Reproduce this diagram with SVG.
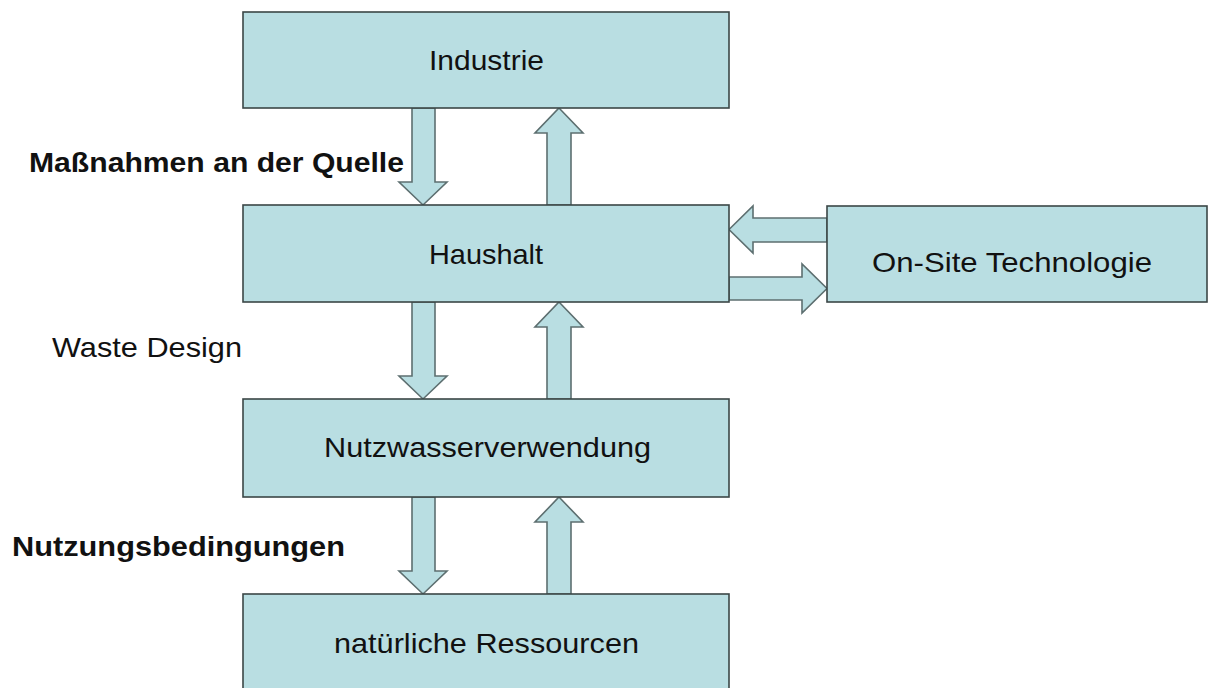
<svg xmlns="http://www.w3.org/2000/svg" width="1208" height="688" viewBox="0 0 1208 688">
<style>
.box{fill:#b9dee2;stroke:#3b4646;stroke-width:1.6}
.arr{fill:#b9dee2;stroke:#5d6f70;stroke-width:1.6;stroke-linejoin:miter}
.t{font-family:"Liberation Sans",Arial,sans-serif;font-size:28px;fill:#111;text-anchor:middle}
.lb{font-family:"Liberation Sans",Arial,sans-serif;font-size:28px;fill:#111}
.b{font-weight:bold}
</style>
<rect width="1208" height="688" fill="#ffffff"/>
<g id="connectors">
<polygon class="arr" points="412,108 435,108 435,182 447,182 423,205 399,182 412,182"/>
<polygon class="arr" points="559,108 583,133 571,133 571,205 547,205 547,133 535,133"/>
<polygon class="arr" points="412,302 435,302 435,376 447,376 423,399 399,376 412,376"/>
<polygon class="arr" points="559,302 583,327 571,327 571,399 547,399 547,327 535,327"/>
<polygon class="arr" points="412,497 435,497 435,571 447,571 423,594 399,571 412,571"/>
<polygon class="arr" points="559,497 583,522 571,522 571,594 547,594 547,522 535,522"/>
<polygon class="arr" points="729,229.5 753,206 753,218 827,218 827,242 753,242 753,253"/>
<polygon class="arr" points="729,277 802,277 802,264 827,288.5 802,313 802,300 729,300"/>
</g>
<g id="industrie">
<rect class="box" x="243" y="12" width="486" height="96"/>
<text class="t" x="486.5" y="70" textLength="115" lengthAdjust="spacingAndGlyphs">Industrie</text>
</g>
<g id="haushalt">
<rect class="box" x="243" y="205" width="486" height="97"/>
<text class="t" x="486" y="264" textLength="114" lengthAdjust="spacingAndGlyphs">Haushalt</text>
</g>
<g id="onsite">
<rect class="box" x="827" y="206" width="380" height="96"/>
<text class="t" x="1012" y="272" textLength="280" lengthAdjust="spacingAndGlyphs">On-Site Technologie</text>
</g>
<g id="nutzwasser">
<rect class="box" x="243" y="399" width="486" height="98"/>
<text class="t" x="487.5" y="457" textLength="327" lengthAdjust="spacingAndGlyphs">Nutzwasserverwendung</text>
</g>
<g id="ressourcen">
<rect class="box" x="243" y="594" width="486" height="100"/>
<text class="t" x="486.5" y="653" textLength="305" lengthAdjust="spacingAndGlyphs">natürliche Ressourcen</text>
</g>
<g id="labels">
<text class="lb b" x="29" y="172" textLength="375" lengthAdjust="spacingAndGlyphs">Maßnahmen an der Quelle</text>
<text class="lb" x="52" y="357" textLength="190" lengthAdjust="spacingAndGlyphs">Waste Design</text>
<text class="lb b" x="12" y="556" textLength="333" lengthAdjust="spacingAndGlyphs">Nutzungsbedingungen</text>
</g>
</svg>
